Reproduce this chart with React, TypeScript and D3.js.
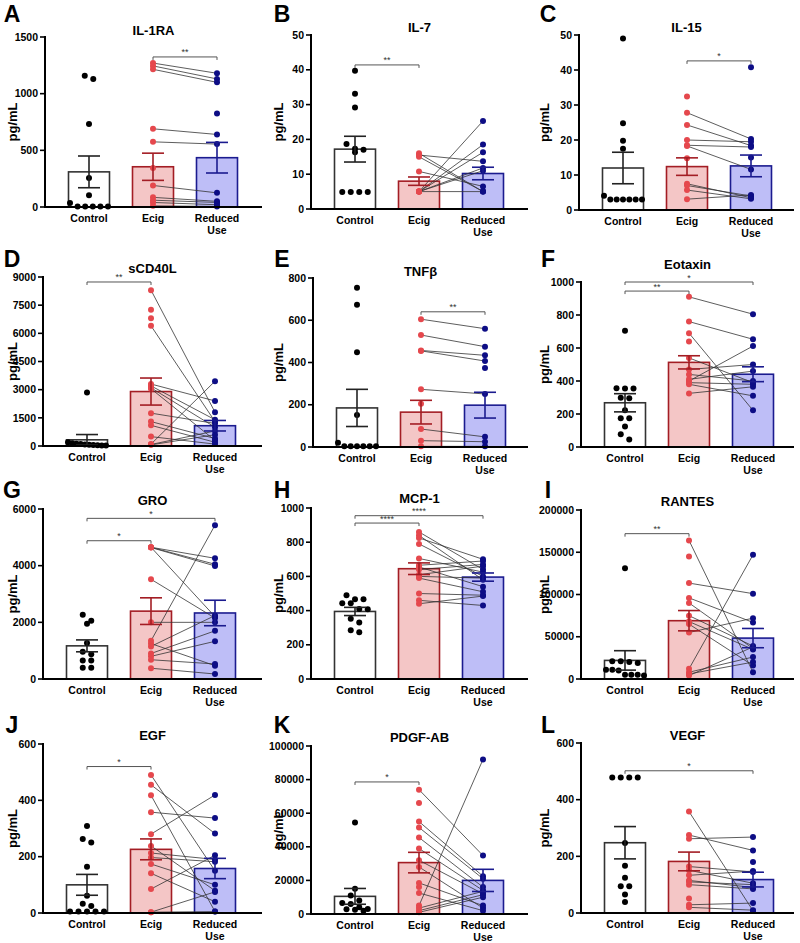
import React from 'react';
import * as d3 from 'd3';

// ---------- DATA ----------
const groups = ['Control', 'Ecig', 'Reduced Use'];
const panelLetters = ['A', 'B', 'C', 'D', 'E', 'F', 'G', 'H', 'I', 'J', 'K', 'L'];
const panelTitles = ['IL-1RA', 'IL-7', 'IL-15', 'sCD40L', 'TNFβ', 'Eotaxin', 'GRO', 'MCP-1', 'RANTES', 'EGF', 'PDGF-AB', 'VEGF'];
const yMaxes = [1500, 50, 50, 9000, 800, 1000, 6000, 1000, 200000, 600, 100000, 600];
const tickSteps = [500, 10, 10, 1500, 200, 200, 2000, 200, 50000, 200, 20000, 200];

type V = number | null;

const ctrlA = [1157, 1130, 732, 255, 103, 35, 5, 5, 5, 5, 5];
const ecigA: V[] = [1270, 1245, 1215, 690, 575, 190, 85, 60, 40, 10, 345, null];
const redA: V[] = [1180, 1130, 1100, 640, 555, 125, 50, 40, 20, 5, null, 825];
const meanA = [310, 355, 435];
const semA = [140, 120, 135];

const ctrlB = [39.7, 33.1, 29.2, 18.7, 17.3, 17.0, 16.3, 4.9, 4.9, 4.9, 4.9];
const ecigB: V[] = [16, 15.5, 15, 10.8, 5, 5, 5, 5, 5, 5];
const redB: V[] = [5, 13.7, 5, 6.5, 25.3, 18.5, 16.3, 11.8, 11, 5];
const meanB = [17.2, 8.0, 10.2];
const semB = [3.7, 1.2, 1.8];

const ctrlC = [49, 24.8, 19.8, 17.5, 4.1, 3, 3, 3, 3, 3, 3];
const ecigC: V[] = [27.8, 24.3, 20, 18.5, 18.3, 7.5, 7, 3.1, 5.7, 32.4, 14.8, null, null];
const redC: V[] = [20.3, 18.4, 19.5, 18, 11.6, 3.5, 4, 4.3, 3.2, null, null, 40.8, 15];
const meanC = [12, 12.4, 12.6];
const semC = [4.5, 2.5, 3.1];

const ctrlD = [2850, 200, 150, 120, 100, 80, 60, 50, 40, 30, 20];
const ecigD: V[] = [8300, 6400, 3300, 3200, 3100, 3050, 1750, 1300, 1100, 500, 100, 80, 60, 7250, 6800];
const redD: V[] = [1800, 1300, 2400, 1400, 1000, 300, 1200, 400, 200, 100, 3450, 800, 600, null, null];
const meanD = [330, 2900, 1080];
const semD = [280, 720, 280];

const ctrlE = [754, 673, 448, 152, 20, 3, 3, 3, 3, 3, 3];
const ecigE: V[] = [605, 530, 457, 455, 273, 85, 30, 3, 205, null];
const redE: V[] = [560, 475, 434, 407, 251, 48, 25, 3, null, 374];
const meanE = [185, 165, 198];
const semE = [88, 56, 61];

const ctrlF = [705, 356, 355, 354, 298, 296, 222, 175, 174, 125, 78, 45];
const ecigF: V[] = [910, 760, 690, 400, 470, 440, 410, 390, 380, 325, 640, 540];
const redF: V[] = [805, 653, 222, 612, 500, 400, 460, 380, 310, 365, null, 390];
const meanF = [268, 513, 441];
const semF = [55, 40, 45];

const ctrlG = [2270, 2060, 1950, 1270, 960, 870, 650, 650, 400, 400];
const ecigG: V[] = [4650, 4650, 4640, 4650, 3520, 2000, 1350, 1250, 1150, 900, 800, 680, 380];
const redG: V[] = [4260, 4050, 3990, 2200, 2150, 2000, 5430, 470, 2240, 1700, 1330, 530, 176];
const meanG = [1170, 2395, 2330];
const semG = [210, 470, 450];

const ctrlH = [490, 467, 467, 443, 443, 410, 408, 352, 330, 285, 273];
const ecigH: V[] = [860, 840, 825, 790, 705, 665, 655, 640, 610, 600, 590, 500, 460, 440];
const redH: V[] = [640, 580, 700, 600, 625, 690, 540, 670, 660, 590, 510, 490, 430, 485];
const meanH = [395, 645, 596];
const semH = [24, 34, 24];

const ctrlI = [131000, 21000, 21000, 20000, 19000, 11000, 10000, 11000, 5000, 5000, 5000, 4000];
const ecigI: V[] = [164000, 145000, 113500, 96000, 90000, 75000, 68000, 65000, 55000, 12000, 8000, 6000, 4000];
const redI: V[] = [8000, null, 101000, 67000, 36000, 39000, 35000, 16000, 72000, 147000, 26000, 20000, 38000];
const meanI = [22000, 69000, 48400];
const semI = [11500, 12000, 11400];

const ctrlJ = [309, 263, 250, 164, 61, 33, 25, 5, 5, 5, 5, 5];
const ecigJ: V[] = [490, 455, 418, 358, 280, 238, 213, 197, 174, 141, 85, 3, 3];
const redJ: V[] = [150, 282, 5, 337, 419, 79, 190, 182, 100, 40, 205, 75, 5];
const meanJ = [100, 226, 158];
const semJ = [37, 37, 36];

const ctrlK = [54500, 15000, 11000, 8000, 6500, 6000, 4000, 3000, 2800, 2500, 2000];
const ecigK: V[] = [74000, 55000, 51500, 45500, 39000, 32000, 28000, 18500, 12500, 5000, 3500, 2000, 1000, 66000, 16000];
const redK: V[] = [34800, 22500, 21000, 16000, 14000, 12000, 3500, 5000, 2000, 92000, 13500, 11500, 10000, null, null];
const meanK = [10500, 30600, 20000];
const semK = [4700, 6100, 6600];

const ctrlL = [478, 478, 478, 478, 247, 167, 124, 94, 94, 65, 39];
const ecigL: V[] = [358, 275, 262, 164, 151, 133, 115, 100, 29, 20, 110, 51, null];
const redL: V[] = [8, 221, 268, 145, 105, 148, 90, 85, 35, 10, 100, null, 180];
const meanL = [248, 182, 118];
const semL = [57, 33, 26];

// significance: [group a, group b, level, label]
const sigA: [number, number, number, string][] = [[1, 2, 1324, '**']];
const sigB: [number, number, number, string][] = [[0, 1, 41.4, '**']];
const sigC: [number, number, number, string][] = [[1, 2, 42.6, '*']];
const sigD: [number, number, number, string][] = [[0, 1, 8734, '**']];
const sigE: [number, number, number, string][] = [[1, 2, 640, '**']];
const sigF: [number, number, number, string][] = [[0, 1, 945, '**'], [0, 2, 1000, '*']];
const sigG: [number, number, number, string][] = [[0, 1, 4880, '*'], [0, 2, 5670, '*']];
const sigH: [number, number, number, string][] = [[0, 1, 912, '****'], [0, 2, 955, '****']];
const sigI: [number, number, number, string][] = [[0, 1, 172000, '**']];
const sigJ: [number, number, number, string][] = [[0, 1, 520, '*']];
const sigK: [number, number, number, string][] = [[0, 1, 78600, '*']];
const sigL: [number, number, number, string][] = [[0, 2, 502, '*']];

const ctrls = [ctrlA, ctrlB, ctrlC, ctrlD, ctrlE, ctrlF, ctrlG, ctrlH, ctrlI, ctrlJ, ctrlK, ctrlL];
const ecigs = [ecigA, ecigB, ecigC, ecigD, ecigE, ecigF, ecigG, ecigH, ecigI, ecigJ, ecigK, ecigL];
const reds = [redA, redB, redC, redD, redE, redF, redG, redH, redI, redJ, redK, redL];
const means = [meanA, meanB, meanC, meanD, meanE, meanF, meanG, meanH, meanI, meanJ, meanK, meanL];
const sems = [semA, semB, semC, semD, semE, semF, semG, semH, semI, semJ, semK, semL];
const sigs = [sigA, sigB, sigC, sigD, sigE, sigF, sigG, sigH, sigI, sigJ, sigK, sigL];

// ---------- LAYOUT ----------
const colX = [0, 266, 532];
const rowY = [0, 235, 470, 705];
const axisXs = [45, 45, 47, 43, 47, 49, 43, 45, 49, 43, 45, 49];
const yTops = [37, 35, 35, 42, 43, 47, 39, 38, 40, 39, 41, 38];
const yBots = [207, 209, 210, 211, 212, 212, 209, 209, 209, 208, 209, 208];
const titleYs = [35, 32, 32, 38, 41, 34, 35, 33, 36, 35, 37, 35];
const letterYs = [22, 32, 28, 28];
const letterXs = [12, 16, 16];
const xEnd = 262;

const FONT = "Arial, 'Liberation Sans', Helvetica, sans-serif";
const barFill = ['#ffffff', '#f4c6c6', '#bebef7'];
const barStroke = ['#333333', '#a31d24', '#1b1b8f'];
const dotFill = ['#000000', '#e5484d', '#0d0d85'];

function jitter(vals: number[], y: (v: number) => number, cx: number) {
  const pts = vals.map((v) => ({ v, py: y(v), px: cx })).sort((a, b) => a.py - b.py);
  const rows: typeof pts[] = [];
  pts.forEach((p) => {
    const last = rows[rows.length - 1];
    if (last && p.py - last[0].py < 6) last.push(p);
    else rows.push([p]);
  });
  rows.forEach((row) => {
    const k = row.length;
    const s = k > 1 ? Math.min(8.5, 38 / (k - 1)) : 0;
    row.forEach((p, i) => (p.px = cx + (i - (k - 1) / 2) * s));
  });
  return pts;
}

function Panel({ i }: { i: number }) {
  const ox = colX[i % 3];
  const oy = rowY[Math.floor(i / 3)];
  const ax = axisXs[i];
  const yTop = yTops[i];
  const yBot = yBots[i];
  const y = d3.scaleLinear().domain([0, yMaxes[i]]).range([yBot, yTop]);
  const x = d3.scalePoint<string>().domain(groups).range([ax + 44, ax + 172]);
  const ticks = d3.range(0, yMaxes[i] + tickSteps[i] / 2, tickSteps[i]);
  const bw = 41;
  const cxs = groups.map((g) => x(g) as number);
  const ctrlPts = jitter(ctrls[i], y, cxs[0]);
  const e = ecigs[i];
  const r = reds[i];

  return (
    <g transform={`translate(${ox},${oy})`} fontFamily={FONT}>
      <text x={letterXs[i % 3]} y={letterYs[Math.floor(i / 3)]} fontSize={23} fontWeight="bold" textAnchor="middle">
        {panelLetters[i]}
      </text>
      <text x={(ax + xEnd) / 2} y={titleYs[i]} fontSize={13} fontWeight="bold" textAnchor="middle">
        {panelTitles[i]}
      </text>
      <text
        transform={`translate(12,${(yTop + yBot) / 2}) rotate(-90)`}
        fontSize={13}
        fontWeight="bold"
        textAnchor="middle"
        dy="0.35em"
      >
        pg/mL
      </text>
      {/* bars */}
      {groups.map((g, gi) => (
        <rect
          key={g}
          x={cxs[gi] - bw / 2}
          y={y(means[i][gi])}
          width={bw}
          height={yBot - y(means[i][gi])}
          fill={barFill[gi]}
          stroke={barStroke[gi]}
          strokeWidth={1.6}
        />
      ))}
      {/* paired lines */}
      {e.map((ev, k) => {
        const rv = r[k];
        if (ev == null || rv == null) return null;
        return (
          <line key={'l' + k} x1={cxs[1]} y1={y(ev)} x2={cxs[2]} y2={y(rv)} stroke="#333" strokeWidth={0.8} />
        );
      })}
      {/* points */}
      {ctrlPts.map((p, k) => (
        <circle key={'c' + k} cx={p.px} cy={p.py} r={3} fill={dotFill[0]} />
      ))}
      {e.map((ev, k) => (ev == null ? null : <circle key={'e' + k} cx={cxs[1]} cy={y(ev)} r={3} fill={dotFill[1]} />))}
      {r.map((rv, k) => (rv == null ? null : <circle key={'r' + k} cx={cxs[2]} cy={y(rv)} r={3} fill={dotFill[2]} />))}
      {/* error bars */}
      {groups.map((g, gi) => {
        const m = means[i][gi];
        const s = sems[i][gi];
        const y1 = y(m + s);
        const y2 = y(Math.max(0, m - s));
        const c = cxs[gi];
        return (
          <g key={'eb' + g} stroke={gi === 0 ? '#222' : barStroke[gi]} strokeWidth={1.6}>
            <line x1={c} x2={c} y1={y1} y2={y2} />
            <line x1={c - 11} x2={c + 11} y1={y1} y2={y1} />
            <line x1={c - 11} x2={c + 11} y1={y2} y2={y2} />
          </g>
        );
      })}
      {/* significance */}
      {sigs[i].map(([a, b, lvl, lab], k) => {
        const yy = y(lvl);
        return (
          <g key={'s' + k}>
            <path
              d={`M${cxs[a]},${yy + 3}V${yy}H${cxs[b]}V${yy + 3}`}
              fill="none"
              stroke="#555"
              strokeWidth={1}
            />
            <text x={(cxs[a] + cxs[b]) / 2} y={yy - 1.5} fontSize={9} textAnchor="middle" fill="#333">
              {lab}
            </text>
          </g>
        );
      })}
      {/* axes */}
      <line x1={ax} x2={ax} y1={yTop - 1} y2={yBot + 1} stroke="#000" strokeWidth={2} />
      <line x1={ax - 1} x2={xEnd} y1={yBot} y2={yBot} stroke="#000" strokeWidth={2} />
      {ticks.map((t) => (
        <g key={'t' + t}>
          <line x1={ax - 5} x2={ax} y1={y(t)} y2={y(t)} stroke="#000" strokeWidth={1.6} />
          <text x={ax - 7} y={y(t)} dy="0.35em" fontSize={10.5} fontWeight="bold" textAnchor="end">
            {t}
          </text>
        </g>
      ))}
      {/* category labels */}
      <text x={cxs[0]} y={yBot + 15} fontSize={10.5} fontWeight="bold" textAnchor="middle">Control</text>
      <text x={cxs[1]} y={yBot + 15} fontSize={10.5} fontWeight="bold" textAnchor="middle">Ecig</text>
      <text x={cxs[2]} y={yBot + 15} fontSize={10.5} fontWeight="bold" textAnchor="middle">Reduced</text>
      <text x={cxs[2]} y={yBot + 27} fontSize={10.5} fontWeight="bold" textAnchor="middle">Use</text>
    </g>
  );
}

export default function App() {
  return (
    <svg
      width={800}
      height={943}
      style={{ position: 'absolute', left: 0, top: 0, background: '#fff' }}
    >
      <rect width={800} height={943} fill="#fff" />
      {panelTitles.map((_, i) => (
        <Panel key={i} i={i} />
      ))}
    </svg>
  );
}
